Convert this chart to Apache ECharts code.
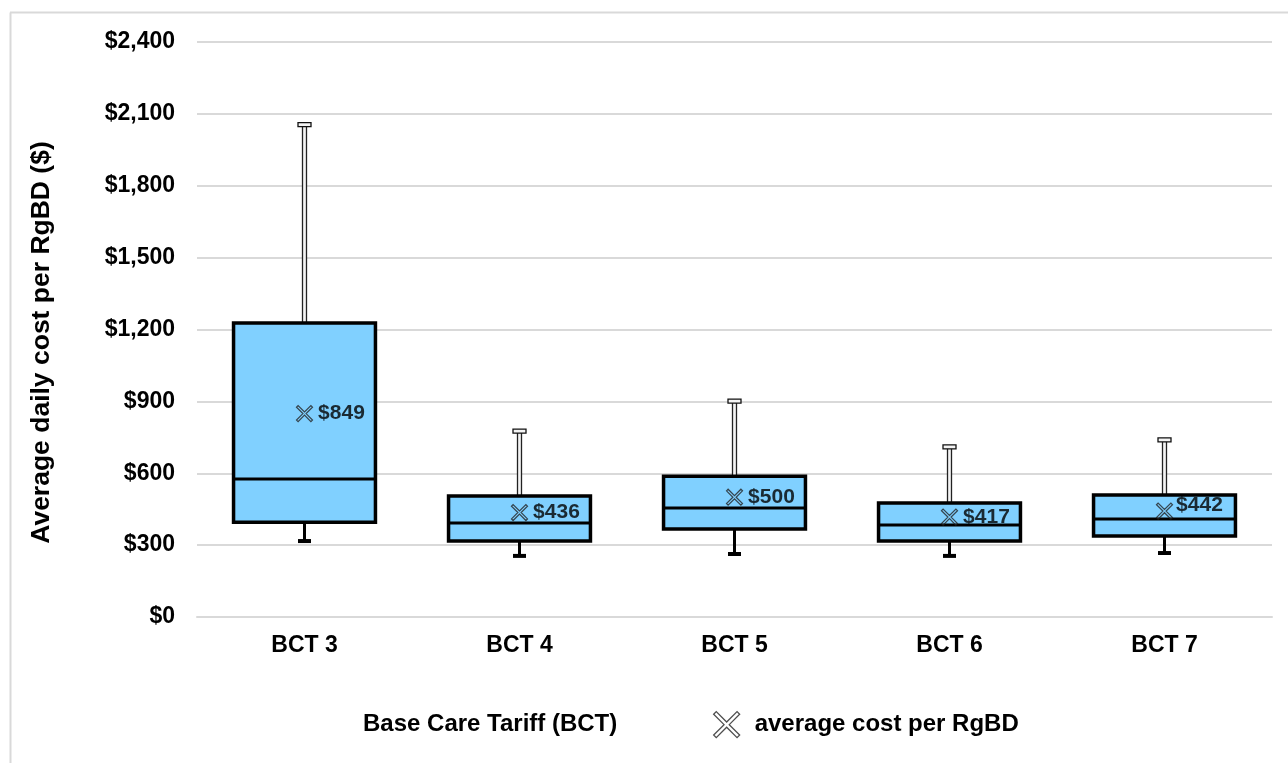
<!DOCTYPE html>
<html>
<head>
<meta charset="utf-8">
<script src="https://cdn.jsdelivr.net/npm/echarts@6/dist/echarts.min.js"></script>
<style>
html,body{margin:0;padding:0;background:#fff;}
#chart{width:1288px;height:763px;}
</style>
</head>
<body>
<div id="chart"></div>
<script>
const categories = ['BCT 3', 'BCT 4', 'BCT 5', 'BCT 6', 'BCT 7'];
const lowerWhisker = [317, 255, 263, 255, 267];
const q1Values = [396, 317, 367, 317, 338];
const medianValues = [576, 392, 455, 384, 409];
const q3Values = [1227, 505, 588, 476, 509];
const upperWhisker = [2055, 776, 901, 710, 739];
const meanValues = [849, 436, 500, 417, 442];
const yTicks = [0, 300, 600, 900, 1200, 1500, 1800, 2100, 2400];

const FONT = '"Liberation Sans", Arial, sans-serif';
const boxData = categories.map((c, i) => [i, lowerWhisker[i], q1Values[i], medianValues[i], q3Values[i], upperWhisker[i]]);

const chart = echarts.init(document.getElementById('chart'));

function renderBox(params, api) {
  const idx = api.value(0);
  const pLow = api.coord([idx, api.value(1)]);
  const pQ1 = api.coord([idx, api.value(2)]);
  const pMed = api.coord([idx, api.value(3)]);
  const pQ3 = api.coord([idx, api.value(4)]);
  const pUp = api.coord([idx, api.value(5)]);
  const bw = api.size([1, 0])[0] * 0.66;
  const x = pQ1[0];
  const capW = 13;
  return {
    type: 'group',
    children: [
      // upper whisker (double line)
      { type: 'rect', shape: { x: x - 2, y: pUp[1], width: 4, height: pQ3[1] - pUp[1] },
        style: { fill: '#f4f4f4', stroke: '#222222', lineWidth: 1.3 } },
      { type: 'rect', shape: { x: x - capW / 2, y: pUp[1] - 2, width: capW, height: 4 },
        style: { fill: '#f4f4f4', stroke: '#111111', lineWidth: 1.3 } },
      // lower whisker
      { type: 'line', shape: { x1: x, y1: pQ1[1], x2: x, y2: pLow[1] },
        style: { stroke: '#000', lineWidth: 3 } },
      { type: 'line', shape: { x1: x - capW / 2, y1: pLow[1], x2: x + capW / 2, y2: pLow[1] },
        style: { stroke: '#000', lineWidth: 4 } },
      // box
      { type: 'rect', shape: { x: x - bw / 2, y: pQ3[1], width: bw, height: pQ1[1] - pQ3[1] },
        style: { fill: '#80D0FF', stroke: '#000', lineWidth: 3.5 } },
      // median
      { type: 'line', shape: { x1: x - bw / 2, y1: pMed[1], x2: x + bw / 2, y2: pMed[1] },
        style: { stroke: '#000', lineWidth: 3 } }
    ]
  };
}

const xSymbol = 'path://M0,1 L1,0 L5,4 L9,0 L10,1 L6,5 L10,9 L9,10 L5,6 L1,10 L0,9 L4,5 Z';

chart.setOption({
  animation: false,
  backgroundColor: '#ffffff',
  grid: { left: 197, right: 16, top: 42, bottom: 146 },
  title: {
    text: 'Base Care Tariff (BCT)',
    left: 358, top: 707,
    textStyle: { fontFamily: FONT, fontSize: 24, fontWeight: 'bold', color: '#000' }
  },
  legend: {
    left: 708, top: 706,
    itemWidth: 26, itemHeight: 26,
    itemGap: 10,
    textStyle: { fontFamily: FONT, fontSize: 24, fontWeight: 'bold', color: '#000', padding: [0, 0, 0, 10] },
    data: [{ name: 'average cost per RgBD', icon: xSymbol, itemStyle: { color: '#fff', borderColor: '#222', borderWidth: 1.3 } }]
  },
  graphic: [
    { type: 'line', shape: { x1: 10.5, y1: 12.5, x2: 10.5, y2: 763 }, style: { stroke: '#d9d9d9', lineWidth: 2 } },
    { type: 'line', shape: { x1: 10, y1: 12.5, x2: 1288, y2: 12.5 }, style: { stroke: '#d9d9d9', lineWidth: 2 } }
  ],
  xAxis: {
    type: 'category',
    data: categories,
    axisLine: { show: true, lineStyle: { color: '#d9d9d9', width: 2 } },
    axisTick: { show: false },
    axisLabel: { margin: 17, fontFamily: FONT, fontSize: 23, fontWeight: 'bold', color: '#000' },
    splitLine: { show: false }
  },
  yAxis: {
    type: 'value',
    min: 0, max: 2400, interval: 300,
    name: 'Average daily cost per RgBD ($)',
    nameLocation: 'middle',
    nameGap: 142,
    nameTextStyle: { fontFamily: FONT, fontSize: 26.5, fontWeight: 'bold', color: '#000', padding: [0, 26, 0, 0] },
    axisLine: { show: false },
    axisTick: { show: false },
    axisLabel: {
      margin: 22, fontFamily: FONT, fontSize: 23, fontWeight: 'bold', color: '#000',
      formatter: v => yTicks.includes(v) ? '$' + v.toLocaleString('en-US') : ''
    },
    splitLine: { lineStyle: { color: '#d9d9d9', width: 2 } }
  },
  series: [
    {
      type: 'custom',
      name: 'box',
      renderItem: renderBox,
      data: boxData,
      encode: { x: 0, y: [1, 2, 3, 4, 5] },
      z: 2
    },
    {
      type: 'scatter',
      name: 'average cost per RgBD',
      symbol: xSymbol,
      symbolSize: 16,
      itemStyle: { color: 'rgba(255,255,255,0)', borderColor: '#222', borderWidth: 1.2 },
      data: meanValues.map((v, i) => ({
        value: [i, v],
        label: i === 4 ? { offset: [-2, -6] } : {}
      })),
      label: {
        show: true, position: 'right', distance: 5,
        fontFamily: FONT, fontSize: 21, fontWeight: 'bold', color: '#000',
        formatter: p => '$' + p.value[1]
      },
      z: 5
    }
  ]
});
</script>
</body>
</html>
